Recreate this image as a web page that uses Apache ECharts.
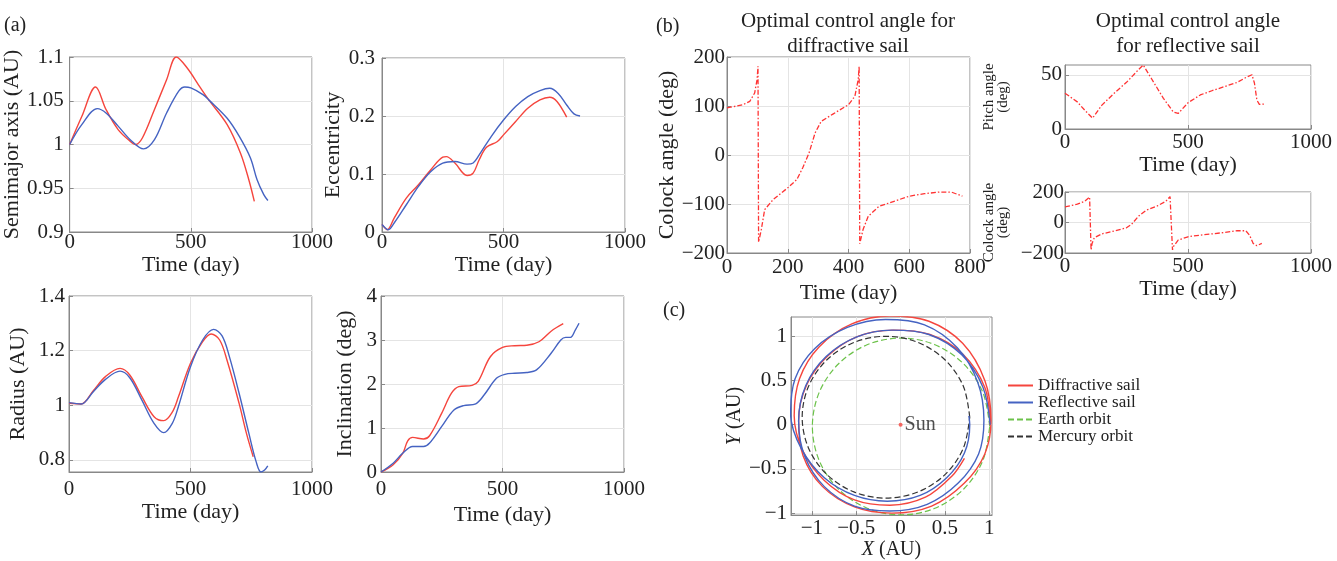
<!DOCTYPE html>
<html><head><meta charset="utf-8">
<script src="https://cdn.jsdelivr.net/npm/echarts@6/dist/echarts.min.js"></script>
<style>html,body{margin:0;padding:0;background:#fff}#c{width:1337px;height:561px}</style>
</head><body><div id="c"></div>
<script>
// ---------- (a) orbital elements ----------
const semiDaysRed = [0,50,107,150,200,250,272,300,350,400,440,485,540,574,650,705,739,762];
const semiRed     = [1.0,1.032,1.0657,1.04,1.017,1.0036,1.0,1.0074,1.04,1.074,1.1,1.0874,1.0646,1.051,1.0227,0.99,0.96,0.935];
const semiDaysBlue = [0,50,114,150,200,250,305,350,400,450,475,500,550,574,650,700,746,773,801,818];
const semiBlue     = [1.0,1.0227,1.041,1.036,1.021,1.0055,0.995,1.0055,1.036,1.061,1.0657,1.0646,1.057,1.051,1.03,1.0093,0.9846,0.96,0.9427,0.936];

const eccDaysRed = [0,22,50,100,150,200,250,265,300,350,375,400,430,475,500,550,600,650,690,720,760];
const eccRed     = [0.013,0.004,0.024,0.0585,0.0815,0.107,0.1291,0.13,0.1188,0.0975,0.1015,0.1245,0.146,0.156,0.1675,0.1905,0.2134,0.2278,0.2323,0.225,0.198];
const eccDaysBlue = [0,26,50,100,150,200,250,300,350,375,400,450,500,550,600,650,690,725,760,790,815];
const eccBlue     = [0.013,0.004,0.0155,0.047,0.0786,0.104,0.1188,0.1216,0.117,0.119,0.133,0.165,0.193,0.2163,0.2335,0.2438,0.2478,0.239,0.219,0.2037,0.2];

const radDaysRed = [0,50,100,150,210,250,300,350,390,425,450,500,550,585,620,650,700,730,758];
const radRed     = [1.0073,1.005,1.0537,1.105,1.135,1.111,1.0317,0.9585,0.944,0.975,1.03,1.154,1.233,1.261,1.239,1.166,1.007,0.898,0.812];
const radDaysBlue = [0,50,100,150,210,250,300,350,390,425,450,500,550,595,630,660,700,740,770,790,805,818];
const radBlue     = [1.01,1.005,1.05,1.095,1.125,1.101,1.019,0.934,0.90,0.934,0.995,1.141,1.239,1.278,1.254,1.178,1.044,0.898,0.794,0.756,0.763,0.778];

const incDaysRed = [0,50,90,110,130,175,200,250,290,320,375,400,450,500,550,600,650,700,750];
const incRed     = [0,0.166,0.43,0.71,0.786,0.75,0.824,1.338,1.79,1.94,1.97,2.06,2.62,2.83,2.87,2.88,2.96,3.2,3.37];
const incDaysBlue = [0,50,90,130,175,200,250,300,340,390,425,475,510,550,600,640,700,740,760,780,800,815];
const incBlue     = [0,0.2,0.43,0.58,0.58,0.66,1.036,1.41,1.51,1.55,1.755,2.13,2.22,2.245,2.26,2.32,2.7,3.0,3.06,3.06,3.23,3.38];

// ---------- (b) control angles ----------
const clockDiffDays = [0,53,75,91,99,102,104,113,124,152,200,230,249,270,290,310,350,400,421,432,435,437,448,465,500,550,600,650,700,740,775];
const clockDiff     = [96,102.7,109.5,126.5,153.7,181,-178,-152,-111.5,-91,-67,-50,-26.5,4,45,68.7,84,102.7,120,154,181,-181,-152,-125,-105,-94.5,-84,-79,-75.5,-76,-84];
const pitchReflDays = [0,50,80,112,150,200,250,300,318,350,400,440,460,500,550,600,650,700,740,760,770,780,790,810];
const pitchRefl     = [33,25,17.4,10,22,33,43,55,59,47,28.3,15.8,14.3,24.2,31.4,35.5,39.2,43,48,50,42.4,26.7,22.7,23];
const clockReflDays = [0,50,80,100,104,106,110,119,151,199,250,270,300,330,375,410,427,434,437,440,460,500,550,600,650,700,735,750,765,780,800];
const clockRefl     = [102,120,139,167,178,-180,-137,-100,-74,-56.5,-35,-13,43,80,108.7,139,170,178,-180,-159,-115,-93.5,-82.6,-74,-65,-54,-54,-82.6,-137,-152,-137];

// ---------- (c) trajectories (AU) ----------
const diffOrbitX = [1.01,0.95,0.70,0.33,-0.08,-0.48,-0.82,-1.06,-1.15,-1.10,-0.88,-0.52,-0.10,0.35,0.72,0.95,1.02,0.95,0.70,0.32,-0.12,-0.55,-0.92,-1.14,-1.20,-1.10,-0.86,-0.52,-0.12,0.28,0.58,0.72];
const diffOrbitY = [0.00,0.42,0.80,1.02,1.07,1.00,0.78,0.45,0.05,-0.35,-0.70,-0.93,-1.00,-0.92,-0.66,-0.33,0.05,0.50,0.92,1.17,1.23,1.14,0.88,0.52,0.10,-0.30,-0.63,-0.85,-0.91,-0.82,-0.58,-0.38];
const reflOrbitX = [1.01,0.93,0.69,0.32,-0.10,-0.50,-0.84,-1.07,-1.15,-1.08,-0.86,-0.52,-0.12,0.30,0.65,0.88,0.94,0.87,0.64,0.27,-0.17,-0.60,-0.97,-1.19,-1.24,-1.12,-0.86,-0.52,-0.15,0.22,0.52,0.72,0.78,0.77];
const reflOrbitY = [0.00,0.42,0.79,1.02,1.07,0.99,0.77,0.44,0.04,-0.36,-0.70,-0.92,-0.975,-0.90,-0.66,-0.33,0.05,0.48,0.87,1.13,1.19,1.10,0.86,0.52,0.12,-0.27,-0.60,-0.80,-0.865,-0.80,-0.60,-0.32,0.00,0.10];
const earthOrbitX = [1.005,0.929,0.712,0.388,0.005,-0.378,-0.702,-0.919,-0.995,-0.919,-0.702,-0.378,0.005,0.388,0.712,0.929,1.005];
const earthOrbitY = [-0.02,0.363,0.687,0.904,0.98,0.904,0.687,0.363,-0.02,-0.403,-0.727,-0.944,-1.02,-0.944,-0.727,-0.403,-0.02];
const mercOrbitX = [0.78,0.708,0.503,0.197,-0.165,-0.527,-0.833,-1.038,-1.11,-1.038,-0.833,-0.527,-0.165,0.197,0.503,0.708,0.78];
const mercOrbitY = [0.085,0.435,0.732,0.93,1.0,0.93,0.732,0.435,0.085,-0.265,-0.562,-0.76,-0.83,-0.76,-0.562,-0.265,0.085];
const sunPos = [[0,0]];

// ---------- tick labels ----------
const radiusTicks = [0.8,1,1.2,1.4];
const pitchTicks = [0,50];
const orbitTicks = [-1,-0.5,0,0.5,1];

const FONT = '"Liberation Serif","Times New Roman",serif';
const RED = '#f5453d', BLUE = '#4563c2', GREEN = '#6cc24a', BLACK = '#333333', TXT = '#222';

function fmt(v){ const a = parseFloat(Math.abs(v).toFixed(6)); return (v < -1e-9 ? '\u2212' : '') + a; }
function pairs(xs, ys){ return xs.map((x,i)=>[x, ys[i]]); }

function axis(kind, gi, o){
  const ax = {
    type:'value', gridIndex:gi, min:o.min, max:o.max,
    name:o.name || '', nameLocation:'middle', nameGap:o.gap,
    nameRotate: kind === 'y' ? 90 : 0,
    nameTextStyle:{fontFamily:FONT, fontSize:o.nameSize || 22, color:TXT, lineHeight:o.lh, rich:o.rich},
    axisLine:{show:true, onZero:false, lineStyle:{color:'#888', width:1}},
    axisTick:{show:true, inside:true, length:4, lineStyle:{color:'#888'}},
    axisLabel:{margin:o.margin, fontFamily:FONT, fontSize:o.labelSize || 21, color:TXT, formatter:fmt},
    splitLine:{show:true, lineStyle:{color:'#e4e4e4', width:1}}
  };
  if (o.ticks){ ax.axisTick.customValues = o.ticks; ax.axisLabel.customValues = o.ticks; }
  else ax.interval = o.interval;
  return ax;
}

function line(gi, xs, ys, color, name, extra){
  return Object.assign({
    type:'line', name:name, xAxisIndex:gi, yAxisIndex:gi, data:pairs(xs, ys),
    symbol:'none', showSymbol:false, smooth:0.35,
    lineStyle:{color:color, width:1.4}, itemStyle:{color:color}, animation:false, silent:true
  }, extra || {});
}
const dashDot = {smooth:false, lineStyle:{color:'#ff3333', width:1.3, type:[5,2,1.5,2]}};

const gridBox = {show:true, borderColor:'#888', borderWidth:1, backgroundColor:'transparent', containLabel:false};
const grids = [
  {left:69,  top:57,  width:243, height:175},
  {left:382, top:58,  width:243, height:174},
  {left:69,  top:296, width:243, height:176},
  {left:381, top:296, width:243, height:176},
  {left:727, top:57,  width:243, height:196},
  {left:1065,top:65,  width:246, height:64},
  {left:1065,top:192, width:246, height:61},
  {left:791, top:317, width:201, height:199}
].map(g => Object.assign({}, gridBox, g));

const xAxes = [
  axis('x',0,{min:0,max:1000,interval:500,name:'Time (day)',gap:19,margin:0}),
  axis('x',1,{min:0,max:1000,interval:500,name:'Time (day)',gap:19,margin:0}),
  axis('x',2,{min:0,max:1000,interval:500,name:'Time (day)',gap:28,margin:7}),
  axis('x',3,{min:0,max:1000,interval:500,name:'Time (day)',gap:32,margin:7}),
  axis('x',4,{min:0,max:800,interval:200,name:'Time (day)',gap:29,margin:4}),
  axis('x',5,{min:0,max:1000,interval:500,name:'Time (day)',gap:23,margin:3}),
  axis('x',6,{min:0,max:1000,interval:500,name:'Time (day)',gap:23,margin:3}),
  axis('x',7,{min:-1.236,max:1.031,ticks:orbitTicks,name:'{i|X} (AU)',gap:21,margin:3,nameSize:20,
    rich:{i:{fontStyle:'italic',fontFamily:FONT,fontSize:20,color:TXT}}})
];
const yAxes = [
  axis('y',0,{min:0.9,max:1.1,interval:0.05,name:'Semimajor axis (AU)',gap:43,margin:6}),
  axis('y',1,{min:0,max:0.3,interval:0.1,name:'Eccentricity',gap:38,margin:7}),
  axis('y',2,{min:0.756,max:1.4,ticks:radiusTicks,name:'Radius (AU)',gap:40,margin:4}),
  axis('y',3,{min:0,max:4,interval:1,name:'Inclination (deg)',gap:25,margin:4}),
  axis('y',4,{min:-200,max:200,interval:100,name:'Colock angle (deg)',gap:48,margin:2}),
  axis('y',5,{min:0,max:59,ticks:pitchTicks,name:'Pitch angle\n(deg)',gap:55,margin:3,nameSize:15,lh:14}),
  axis('y',6,{min:-200,max:200,interval:200,name:'Colock angle\n(deg)',gap:55,margin:1,nameSize:15,lh:14}),
  axis('y',7,{min:-1.022,max:1.218,ticks:orbitTicks,name:'{i|Y} (AU)',gap:42,margin:4,nameSize:20,
    rich:{i:{fontStyle:'italic',fontFamily:FONT,fontSize:20,color:TXT}}})
];

const DIFF = 'Diffractive sail', REFL = 'Reflective sail';
const orbitStyle = {smooth:0.33};
const series = [
  line(0, semiDaysRed, semiRed, RED, DIFF),
  line(0, semiDaysBlue, semiBlue, BLUE, REFL),
  line(1, eccDaysRed, eccRed, RED, DIFF),
  line(1, eccDaysBlue, eccBlue, BLUE, REFL),
  line(2, radDaysRed, radRed, RED, DIFF),
  line(2, radDaysBlue, radBlue, BLUE, REFL),
  line(3, incDaysRed, incRed, RED, DIFF),
  line(3, incDaysBlue, incBlue, BLUE, REFL),
  line(4, clockDiffDays, clockDiff, '#ff3333', 'b1', dashDot),
  line(5, pitchReflDays, pitchRefl, '#ff3333', 'b2', dashDot),
  line(6, clockReflDays, clockRefl, '#ff3333', 'b3', dashDot),
  line(7, earthOrbitX, earthOrbitY, GREEN, 'Earth orbit', {smooth:0.33, lineStyle:{color:GREEN, width:1.2, type:[6,3]}}),
  line(7, mercOrbitX, mercOrbitY, BLACK, 'Mercury orbit', {smooth:0.33, lineStyle:{color:BLACK, width:1.2, type:[6,3]}}),
  line(7, diffOrbitX, diffOrbitY, RED, DIFF, orbitStyle),
  line(7, reflOrbitX, reflOrbitY, BLUE, REFL, orbitStyle),
  {type:'scatter', xAxisIndex:7, yAxisIndex:7, data:sunPos, symbolSize:4, itemStyle:{color:RED},
   label:{show:true, position:'right', distance:2, formatter:'Sun', fontFamily:FONT, fontSize:20, color:TXT},
   animation:false, silent:true, z:5}
];

const T = (txt, x, y, size, align) => ({type:'text', x:x, y:y, silent:true,
  style:{text:txt, fontFamily:FONT, fontSize:size, fill:TXT, textAlign:align || 'left', textVerticalAlign:'top', verticalAlign:'top', lineHeight:25}});

const option = {
  backgroundColor:'#fff',
  animation:false,
  grid:grids, xAxis:xAxes, yAxis:yAxes, series:series,
  legend:{
    orient:'vertical', left:1007, top:377, padding:0, itemWidth:25, itemHeight:16, itemGap:0,
    selectedMode:false,
    itemStyle:{opacity:0},
    data:[DIFF, REFL, 'Earth orbit', 'Mercury orbit'],
    textStyle:{fontFamily:FONT, fontSize:17, color:TXT, lineHeight:16}
  },
  graphic:[
    T('(a)', 4, 13, 20),
    T('(b)', 656, 14, 20),
    T('(c)', 663, 298, 20),
    T('Optimal control angle for\ndiffractive sail', 848, 9, 21, 'center'),
    T('Optimal control angle\nfor reflective sail', 1188, 9, 21, 'center')
  ]
};

const chart = echarts.init(document.getElementById('c'), null, {renderer:'canvas'});
chart.setOption(option);
</script></body></html>
